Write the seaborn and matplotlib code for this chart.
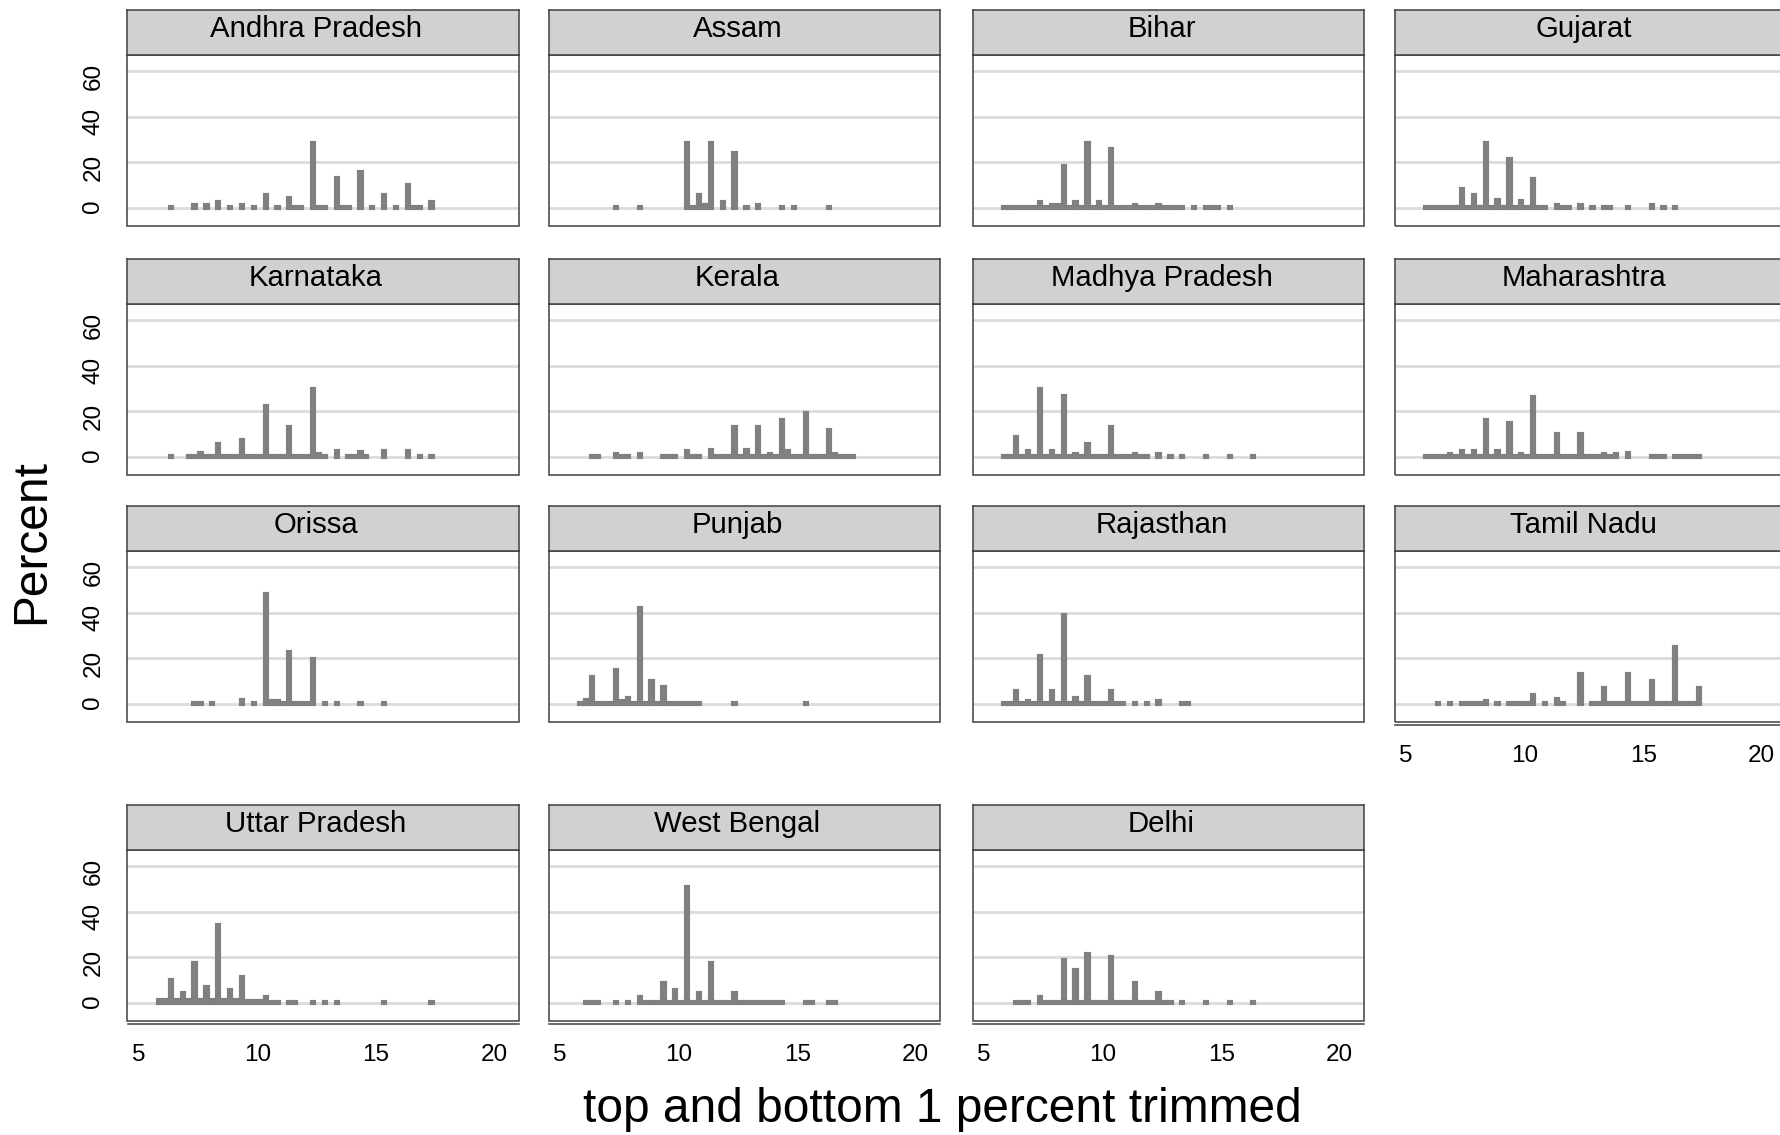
import numpy as np
import pandas as pd
import matplotlib
matplotlib.use("Agg")
import matplotlib.pyplot as plt
import matplotlib.transforms as mtransforms
from matplotlib.patches import Rectangle
import seaborn as sns

# ------------------------------------------------------------------ data
# common histogram bins (width 0.25, 47 bins), heights in percent per state
BIN_FIRST_CENTER = 5.56
BIN_WIDTH = 0.25
N_BINS = 47

STATES = ["Andhra Pradesh", "Assam", "Bihar", "Gujarat",
          "Karnataka", "Kerala", "Madhya Pradesh", "Maharashtra",
          "Orissa", "Punjab", "Rajasthan", "Tamil Nadu",
          "Uttar Pradesh", "West Bengal", "Delhi"]

andhra_pradesh = [0, 0, .5, 0, 0, 0, 1.4, 0, 1.4, 0,
                  2.6, 0, .5, 0, 1.3, 0, .5, 0, 5.6, 0,
                  .5, 0, 4.1, .5, .5, 0, 28.5, .5, .5, 0,
                  12.9, .5, .5, 0, 15.6, 0, .5, 0, 5.6, 0,
                  .5, 0, 9.9, .5, .5, 0, 2.6]
assam = [0, 0, 0, 0, 0, 0, .5, 0, 0, 0,
         .5, 0, 0, 0, 0, 0, 0, 0, 28.5, .5,
         5.6, 1.4, 28.5, 0, 2.6, 0, 24.2, 0, .5, 0,
         1.2, 0, 0, 0, .5, 0, .5, 0, 0, 0,
         0, 0, .5, 0, 0, 0, 0]
bihar = [.5, .5, .5, .5, .5, .5, 2.6, .5, 1.2, 1.0,
         18.5, .5, 2.6, .5, 28.5, .5, 2.6, .5, 25.6, .5,
         .5, .5, 1.2, .5, .5, .5, 1.2, .5, .5, .5,
         .5, 0, .5, 0, .5, .5, .5, 0, .5, 0,
         0, 0, 0, 0, 0, 0, 0]
gujarat = [.5, .5, .5, .5, .5, .5, 8.3, .5, 5.6, .5,
           28.5, .5, 3.6, .5, 21.3, .5, 3.1, .5, 12.7, .5,
           .5, 0, 1.2, .5, .5, 0, 1.2, 0, .5, 0,
           .5, .5, 0, 0, .5, 0, 0, 0, 1.2, 0,
           .5, 0, .5, 0, 0, 0, 0]
karnataka = [0, 0, .5, 0, 0, .5, .5, 1.6, .5, .5,
             5.8, .5, .5, .5, 7.3, .5, .5, .5, 22.1, .5,
             .5, .5, 13.1, .5, .5, .5, 29.5, 1.1, .5, 0,
             2.6, 0, .5, .5, 2.3, .5, 0, 0, 2.6, 0,
             0, 0, 2.6, 0, .5, 0, .5]
kerala = [0, 0, .5, .5, 0, 0, 1.1, .5, .5, 0,
          1.1, 0, 0, 0, .5, .5, .5, 0, 2.6, .5,
          .5, 0, 2.9, .5, .5, .5, 13.1, .5, 2.9, .5,
          13.1, .5, 1.4, .5, 16.0, 2.6, .5, .5, 19.2, .5,
          .5, .5, 11.7, 1.4, .5, .5, .5]
madhya_pradesh = [.5, .5, 8.7, .5, 2.6, .5, 29.5, .5, 2.6, .5,
                  26.5, .5, 1.1, .5, 5.8, .5, .5, .5, 13.1, .5,
                  .5, .5, 1.1, .5, .5, 0, 1.1, 0, .5, 0,
                  .5, 0, 0, 0, .5, 0, 0, 0, .5, 0,
                  0, 0, .5, 0, 0, 0, 0]
maharashtra = [.5, .5, .5, .5, 1.1, .5, 2.6, .5, 2.6, .5,
               16.1, .5, 2.6, .5, 14.6, .5, 1.1, .5, 26.3, .5,
               .5, .5, 9.9, .5, .5, .5, 9.9, .5, .5, .5,
               1.1, .5, 1.1, 0, 1.6, 0, 0, 0, .5, .5,
               .5, 0, .5, .5, .5, .5, .5]
orissa = [0, 0, 0, 0, 0, 0, .5, .5, 0, .5,
          0, 0, 0, 0, 1.6, 0, .5, 0, 48.0, 1.3,
          1.3, .5, 22.5, .5, .5, .5, 19.7, 0, .5, 0,
          .5, 0, 0, 0, .5, 0, 0, 0, .5, 0,
          0, 0, 0, 0, 0, 0, 0]
punjab = [.5, 1.5, 11.9, .5, .5, .5, 14.7, 1.2, 2.7, .5,
          42.0, .5, 10.2, .5, 7.4, .5, .5, .5, .5, .5,
          .5, 0, 0, 0, 0, 0, .5, 0, 0, 0,
          0, 0, 0, 0, 0, 0, 0, 0, .5, 0,
          0, 0, 0, 0, 0, 0, 0]
rajasthan = [.5, .5, 5.8, .5, 1.2, .5, 20.9, .5, 5.8, .5,
             39.1, .5, 2.7, .5, 11.9, .5, .5, .5, 5.8, .5,
             .5, 0, .5, 0, .5, 0, 1.2, 0, 0, 0,
             .5, .5, 0, 0, 0, 0, 0, 0, 0, 0,
             0, 0, 0, 0, 0, 0, 0]
tamil_nadu = [0, 0, .5, 0, .5, 0, .5, .5, .5, .5,
              1.0, 0, .5, 0, .5, .5, .5, .5, 3.7, 0,
              .5, 0, 2.1, .5, 0, 0, 12.9, 0, .5, .5,
              7.0, .5, .5, .5, 12.9, .5, .5, .5, 9.9, .5,
              .5, .5, 25.0, .5, .5, .5, 7.0]
uttar_pradesh = [1.0, 1.0, 9.9, 1.0, 4.1, 1.0, 17.3, 1.0, 7.0, 1.0,
                 34.3, 1.0, 5.6, 1.0, 11.3, .8, .8, .8, 2.5, .5,
                 .5, 0, .5, .5, 0, 0, .5, 0, .5, 0,
                 .5, 0, 0, 0, 0, 0, 0, 0, .5, 0,
                 0, 0, 0, 0, 0, 0, .5]
west_bengal = [0, .5, .5, .5, 0, 0, .5, 0, .5, 0,
               2.4, .5, .5, .5, 8.5, .5, 5.6, .5, 50.8, .5,
               4.2, .5, 17.3, .5, .5, .5, 4.2, .5, .5, .5,
               .5, .5, .5, .5, .5, 0, 0, 0, .5, .5,
               0, 0, .5, .5, 0, 0, 0]
delhi = [0, 0, .5, .5, .5, 0, 2.4, .5, .5, .5,
         18.8, .5, 14.4, .5, 21.6, .5, .5, .5, 20.2, .5,
         .5, .5, 8.5, .5, .5, .5, 4.2, .5, .5, 0,
         .5, 0, 0, 0, .5, 0, 0, 0, .5, 0,
         0, 0, .5, 0, 0, 0, 0]

HEIGHTS = [andhra_pradesh, assam, bihar, gujarat, karnataka, kerala,
           madhya_pradesh, maharashtra, orissa, punjab, rajasthan,
           tamil_nadu, uttar_pradesh, west_bengal, delhi]

X_TICKS = [5, 10, 15, 20]
Y_TICKS = [0, 20, 40, 60]
X_LABEL = "top and bottom 1 percent trimmed"
Y_LABEL = "Percent"

# ------------------------------------------------------------------ build table
centers = BIN_FIRST_CENTER + BIN_WIDTH * np.arange(N_BINS)
edges = [float(e) for e in
         BIN_FIRST_CENTER - BIN_WIDTH / 2 + BIN_WIDTH * np.arange(N_BINS + 1)]
rows = []
for st, hts in zip(STATES, HEIGHTS):
    for xc, h in zip(centers, hts):
        if h > 0:
            rows.append((st, float(xc), h))
df = pd.DataFrame(rows, columns=["state", "x", "pct"])

# ------------------------------------------------------------------ style
sns.set_style("white")
plt.rcParams["font.family"] = ["Liberation Sans", "DejaVu Sans"]

BAR = "#808080"
GRID = "#dcdcdc"
BORDER = "#404040"
HEADER = "#d1d1d1"

W, H = 1780.0, 1135.0
fig = plt.figure(figsize=(W / 100, H / 100), dpi=100)
fig.patch.set_facecolor("white")


def fig_rect(x, y, w, h):
    return [x / W, 1 - (y + h) / H, w / W, h / H]


COL_LEFT = [127.5, 549.0, 973.0, 1395.0]
ROW_TOP = [55.0, 304.0, 551.0, 850.0]
PW, PH, HH = 391.0, 171.0, 45.0
XAXIS_PANELS = {"Uttar Pradesh", "West Bengal", "Delhi", "Tamil Nadu"}
TEXT_SHIFT = -7 / 100  # inches, text sits slightly left of its anchor

x_axes = []
for i, st in enumerate(STATES):
    r, c = divmod(i, 4)
    ax = fig.add_axes(fig_rect(COL_LEFT[c], ROW_TOP[r], PW, PH))
    sub = df[df["state"] == st]
    sns.histplot(data=sub, x="x", weights="pct", bins=edges, shrink=0.38,
                 color=BAR, edgecolor=BAR, linewidth=3.0, alpha=1, ax=ax)
    for p in list(ax.patches):
        if p.get_height() <= 0:
            p.set_visible(False)
    ax.set_xlim(4.23, 20.73)
    ax.set_ylim(-8, 67)
    ax.set_xlabel("")
    ax.set_ylabel("")
    ax.set_yticks(Y_TICKS)
    ax.set_xticks(X_TICKS)
    ax.grid(axis="y", color=GRID, linewidth=2.0)
    ax.grid(axis="x", visible=False)
    ax.set_axisbelow(True)
    for s in ax.spines.values():
        s.set_visible(False)
    ax.add_patch(Rectangle((0, 0), 1, 1, transform=ax.transAxes, fill=False,
                           edgecolor=BORDER, linewidth=1.1, clip_on=False, zorder=6))
    if c == 0:
        ax.tick_params(axis="y", length=8.6, width=1.0, color=BORDER,
                       labelsize=17.5, pad=8, labelrotation=90, labelcolor="black")
    else:
        ax.tick_params(axis="y", left=False, labelleft=False)
    if st in XAXIS_PANELS:
        sp = ax.spines["bottom"]
        sp.set_visible(True)
        sp.set_position(("outward", 2))
        sp.set_color(BORDER)
        sp.set_linewidth(1.1)
        ax.tick_params(axis="x", length=5.3, width=1.0, color=BORDER,
                       labelsize=17.5, pad=9.5, labelcolor="black")
        x_axes.append(ax)
    else:
        ax.tick_params(axis="x", bottom=False, labelbottom=False)

    # strip header
    hax = fig.add_axes(fig_rect(COL_LEFT[c], ROW_TOP[r] - HH, PW, HH))
    hax.set_facecolor(HEADER)
    hax.set_xticks([])
    hax.set_yticks([])
    for s in hax.spines.values():
        s.set_color(BORDER)
        s.set_linewidth(1.1)
    hax.text(0.5, 0.40, st, ha="center", va="baseline", fontsize=21.2,
             color="black",
             transform=hax.transAxes + mtransforms.ScaledTranslation(
                 TEXT_SHIFT, 0, fig.dpi_scale_trans))

fig.text(32 / W, 1 - 542 / H, Y_LABEL, rotation=90, ha="center", va="center",
         fontsize=34.5, color="black")
fig.text(942 / W, 1 - 1110 / H, X_LABEL, ha="center", va="center",
         fontsize=34.5, color="black")

fig.canvas.draw()
shift = mtransforms.ScaledTranslation(TEXT_SHIFT, 0, fig.dpi_scale_trans)
for ax in x_axes:
    for lab in ax.get_xticklabels():
        lab.set_transform(lab.get_transform() + shift)

fig.savefig("out.png", dpi=100, facecolor="white")
